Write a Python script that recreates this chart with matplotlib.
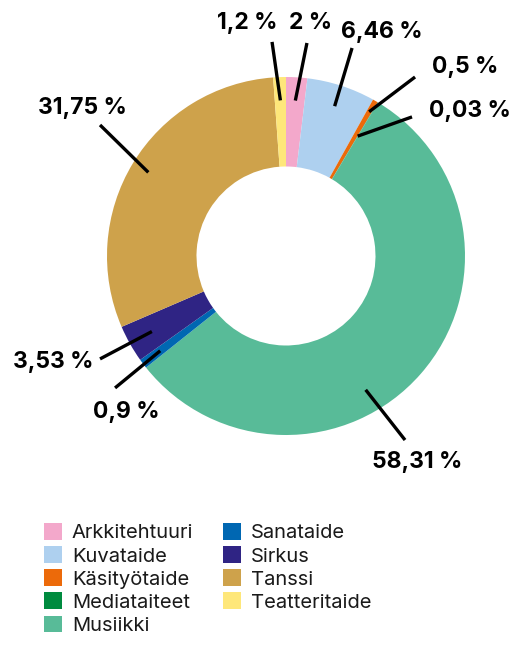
import numpy as np
import matplotlib
matplotlib.use("Agg")
import matplotlib.pyplot as plt

plt.rcParams["font.family"] = ["Inter", "DejaVu Sans"]

categories = ["Arkkitehtuuri", "Kuvataide", "Käsityötaide", "Mediataiteet", "Musiikki",
              "Sanataide", "Sirkus", "Tanssi", "Teatteritaide"]
values = [2, 6.46, 0.5, 0.03, 58.31, 0.9, 3.53, 31.75, 1.2]
labels = ["2 %", "6,46 %", "0,5 %", "0,03 %", "58,31 %", "0,9 %", "3,53 %", "31,75 %", "1,2 %"]
colors = ["#F3A8CB", "#AED0EF", "#EC6A0A", "#008B3F", "#58BB98",
          "#0067B2", "#2F2484", "#CEA24B", "#FEE77A"]

# layout: label centre, leader end near label, leader start radius and
# position inside the wedge (fraction of its sweep), all in units of pie radius
label_xy = [(0.140, 1.302), (0.536, 1.251), (1.0, 1.056), (1.028, 0.810), (0.732, -1.151),
            (-0.894, -0.872), (-1.302, -0.592), (-1.140, 0.827), (-0.218, 1.302)]
line_end = [(0.117, 1.190), (0.369, 1.162), (0.721, 1.0), (0.704, 0.777), (0.665, -1.028),
            (-0.955, -0.737), (-1.039, -0.575), (-1.039, 0.732), (-0.078, 1.196)]
start_r = [0.87, 0.88, 0.93, 0.78, 0.87, 0.88, 0.86, 0.90, 0.87]
start_f = [0.5, 0.5, 0.5, 0.5, 0.59, 0.5, 0.5, 0.5, 0.5]

W, H = 515, 645
cx, cy, R = 286, 256, 179
fig = plt.figure(figsize=(W / 100, H / 100), dpi=100)
ax = fig.add_axes([0, 0, 1, 1])

wedges, _ = ax.pie(values, colors=colors, startangle=90, counterclock=False, radius=1,
                   wedgeprops=dict(width=0.5, linewidth=0))

ax.set_xlim(-cx / R, (W - cx) / R)
ax.set_ylim(-(H - cy) / R, cy / R)
ax.set_aspect("equal")
ax.axis("off")

for w, lab, (tx, ty), (ex, ey), r, f in zip(wedges, labels, label_xy, line_end, start_r, start_f):
    # clockwise wedges: theta2 is the start, theta1 the end
    ang = np.deg2rad(w.theta2 + f * (w.theta1 - w.theta2))
    sx, sy = r * np.cos(ang), r * np.sin(ang)
    ax.plot([sx, ex], [sy, ey], color="black", lw=2.4, solid_capstyle="butt")
    ax.text(tx, ty, lab, ha="center", va="center", fontsize=16.5, fontweight="bold", color="black")

fig.legend(wedges, categories, ncol=2, loc="upper left", bbox_to_anchor=(0.085, 0.189),
           frameon=False, fontsize=14.5, handlelength=0.9, handleheight=0.9,
           handletextpad=0.5, columnspacing=1.45, labelspacing=0.19, borderpad=0,
           borderaxespad=0, labelcolor="#1a1a1a")

fig.savefig("out.png", dpi=100)
